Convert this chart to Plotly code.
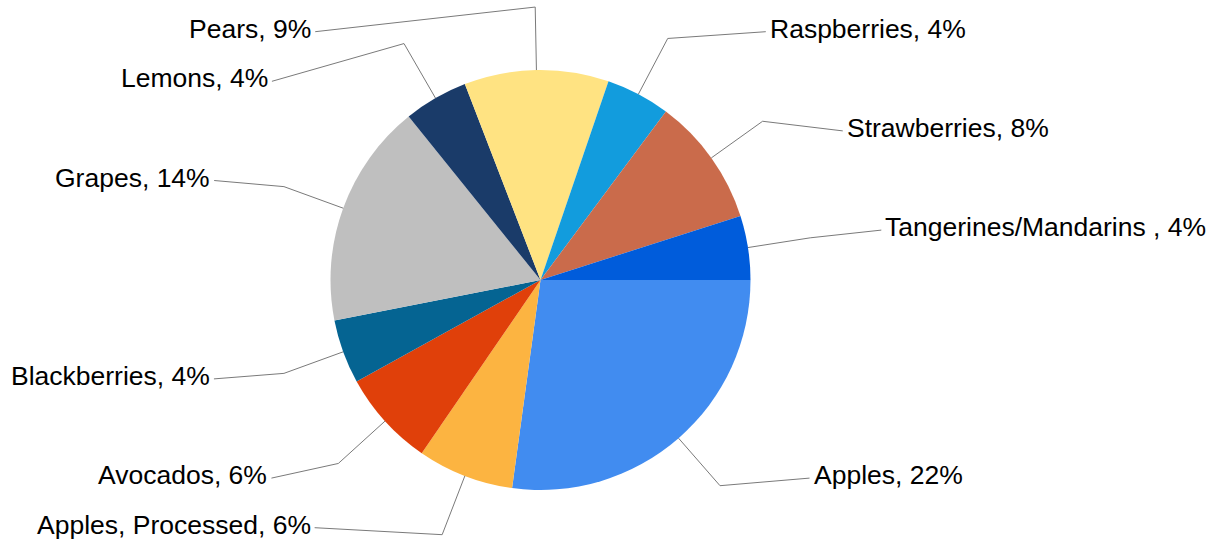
import math
import plotly.graph_objects as go

# ---- data ----
categories = ["Apples", "Apples, Processed", "Avocados", "Blackberries", "Grapes",
              "Lemons", "Pears", "Raspberries", "Strawberries", "Tangerines/Mandarins "]
percent_values = [22, 6, 6, 4, 14, 4, 9, 4, 8, 4]
slice_colors = ["#418CF0", "#FCB441", "#E0400A", "#056492", "#BFBFBF",
                "#1A3B69", "#FFE382", "#129CDD", "#CA6B4B", "#005CDB"]

# ---- layout constants (pixels) ----
W, H = 1232, 544
CX, CY, R = 540.5, 280.0, 210.0
ELBOW_K = 1.3        # elbow radius as multiple of R
LABEL_A = 1.646      # label column distance (in R) at the pie's centre row
LABEL_B = 0.41       # inward pull of labels far from the centre row
ROW0, ROW_STEP = 31.7, 49.6
FONT = dict(family="Liberation Sans, Arial, sans-serif", size=26.5, color="#000000")


def px(x):
    return x / W


def py(y):
    return 1 - y / H


fig = go.Figure(go.Pie(
    labels=categories,
    values=percent_values,
    sort=False,
    direction="clockwise",
    rotation=90,
    marker=dict(colors=slice_colors, line=dict(width=0)),
    textinfo="none",
    hoverinfo="label+value",
    domain=dict(x=[px(CX - R), px(CX + R)], y=[py(CY + R), py(CY - R)]),
))

total = sum(percent_values)
cum = 0.0
items = []
for name, v in zip(categories, percent_values):
    mid = (cum + v / 2) / total * 2 * math.pi
    cum += v
    c, s = math.cos(mid), math.sin(mid)
    start = (CX + R * c, CY + R * s)
    elbow = (CX + ELBOW_K * R * c, CY + ELBOW_K * R * s)
    side = 1 if c >= 0 else -1
    items.append(dict(text=f"{name}, {v}%", start=start, elbow=elbow, side=side))

# assign label rows per side (push down on collisions)
for side in (1, -1):
    group = sorted([it for it in items if it["side"] == side], key=lambda it: it["elbow"][1])
    last = -1
    for it in group:
        k = max(0, round((it["elbow"][1] - ROW0) / ROW_STEP))
        k = max(k, last + 1)
        last = k
        it["row"] = k

shapes = []
annotations = []
for it in items:
    ly = ROW0 + it["row"] * ROW_STEP
    t = (ly - CY) / R
    dx = R * (LABEL_A - LABEL_B * t * t)
    lx = CX + it["side"] * dx
    (x0, y0), (x1, y1) = it["start"], it["elbow"]
    shapes.append(dict(
        type="path", xref="paper", yref="paper",
        path=f"M {px(x0)},{py(y0)} L {px(x1)},{py(y1)} L {px(lx)},{py(ly)}",
        line=dict(color="#7a7a7a", width=1),
    ))
    annotations.append(dict(
        x=px(lx), y=py(ly), xref="paper", yref="paper",
        text=it["text"], showarrow=False,
        xanchor="left" if it["side"] > 0 else "right", yanchor="middle",
        xshift=2 * it["side"], yshift=3,
        font=FONT,
    ))

fig.update_layout(
    width=W, height=H,
    margin=dict(l=0, r=0, t=0, b=0),
    paper_bgcolor="#ffffff",
    plot_bgcolor="#ffffff",
    showlegend=False,
    shapes=shapes,
    annotations=annotations,
)

fig.write_html(
    "out.html",
    config={"displayModeBar": False},
    post_script="document.body.style.margin='0px';document.body.style.overflow='hidden';",
)
